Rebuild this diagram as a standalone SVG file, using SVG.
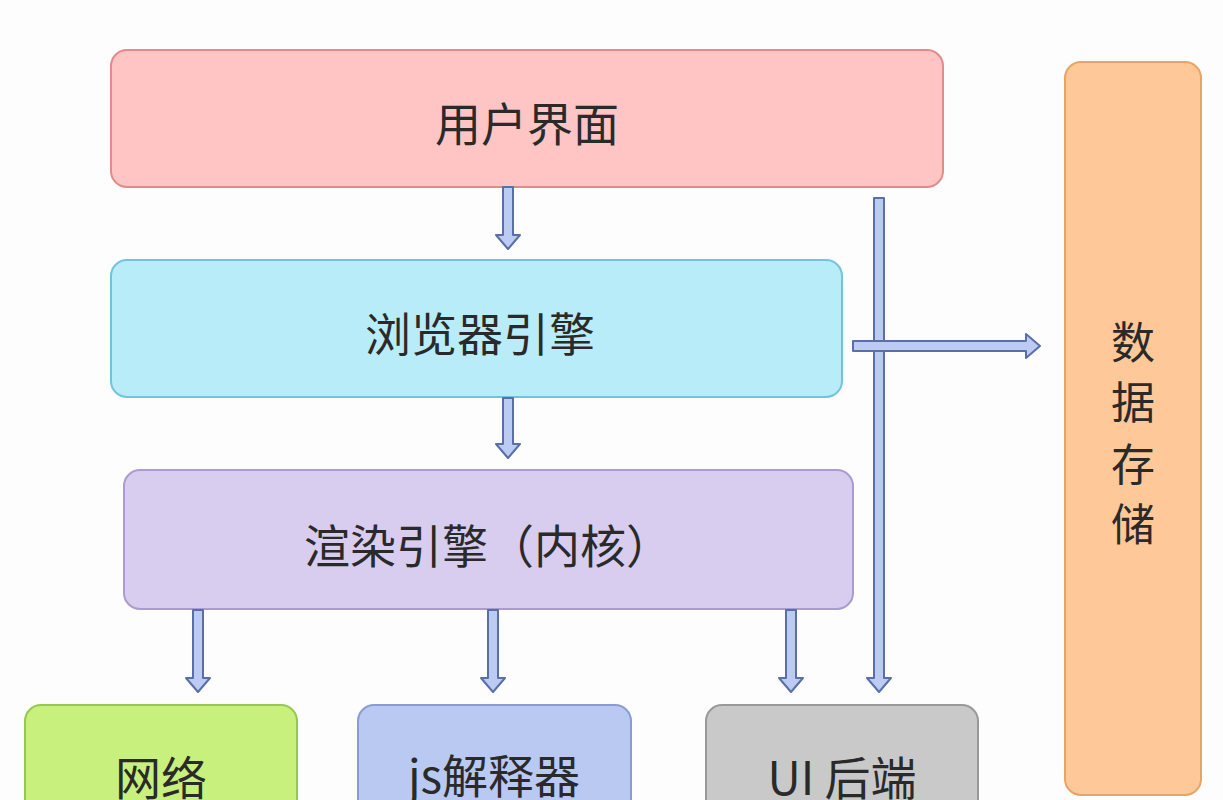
<svg xmlns="http://www.w3.org/2000/svg" width="1223" height="800" viewBox="0 0 1223 800">
<style>
text{font-family:"Noto Sans CJK SC","Liberation Sans",sans-serif;font-size:46px;fill:#2a2a2a;text-anchor:middle;dominant-baseline:central}
.v{font-size:44px}
.ar{fill:#bccbf2;stroke:#5a6ea8;stroke-width:2;stroke-linejoin:round}
.b{stroke-width:2}
</style>
<rect width="1223" height="800" fill="#fdfdfd"/>
<g id="ui"><rect class="b" x="111" y="50" width="832" height="137" rx="16" fill="#ffc4c4" stroke="#e48a8a"/><text x="527" y="121">用户界面</text></g>
<g id="browser"><rect class="b" x="111" y="260" width="731" height="137" rx="16" fill="#b9ecf9" stroke="#72c4dc"/><text x="480" y="331">浏览器引擎</text></g>
<g id="render"><rect class="b" x="124" y="470" width="729" height="139" rx="16" fill="#d8cdee" stroke="#aa9bd0"/><text x="488" y="543">渲染引擎（内核）</text></g>
<g id="storage"><rect class="b" x="1065" y="62" width="136" height="733" rx="16" fill="#ffc898" stroke="#e8a466"/>
<text class="v" x="1133" y="340">数</text><text class="v" x="1133" y="400">据</text><text class="v" x="1133" y="462">存</text><text class="v" x="1133" y="522">储</text></g>
<g id="net"><rect class="b" x="25" y="705" width="272" height="120" rx="16" fill="#c8f07c" stroke="#98c850"/><text x="161" y="775">网络</text></g>
<g id="js"><rect class="b" x="358" y="705" width="273" height="120" rx="16" fill="#bac9f2" stroke="#8a9cd0"/><text x="494" y="773">js解释器</text></g>
<g id="uib"><rect class="b" x="706" y="705" width="272" height="120" rx="16" fill="#c9c9c9" stroke="#999"/><text x="842" y="775">UI 后端</text></g>
<g id="connectors">
<path class="ar" d="M503 187H513V235H520L508 249L496 235H503Z"/>
<path class="ar" d="M503 398H513V444H520L508 458L496 444H503Z"/>
<path class="ar" d="M193 610H203V678H210L198 692L186 678H193Z"/>
<path class="ar" d="M488 610H498V678H505L493 692L481 678H488Z"/>
<path class="ar" d="M786 610H796V678H803L791 692L779 678H786Z"/>
<path class="ar" d="M874 198H884V678H891L879 692L867 678H874Z"/>
<path class="ar" d="M853 341H1026V334L1040 346L1026 358V351H853Z"/>
<rect x="874.5" y="342" width="9" height="8" fill="#bccbf2"/>
</g>
</svg>
